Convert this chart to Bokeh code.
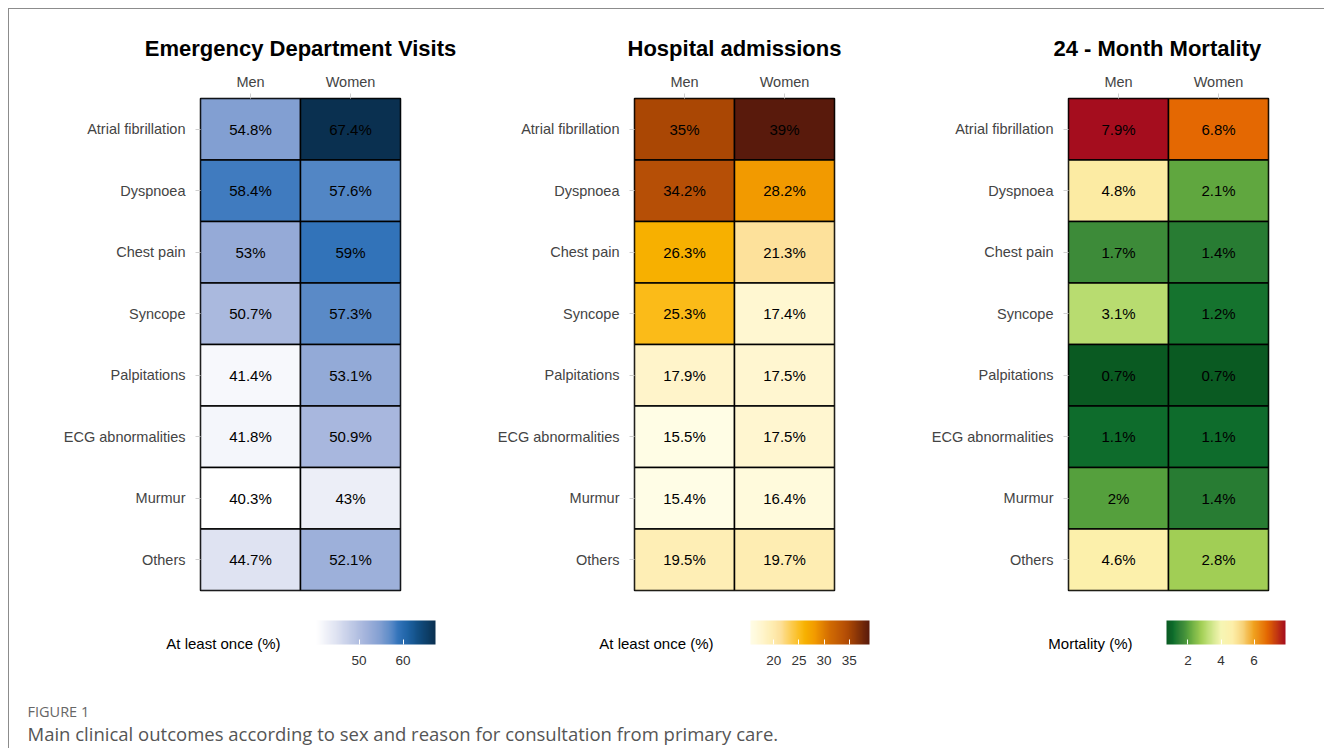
import numpy as np
from bokeh.plotting import figure
from bokeh.models import (ColumnDataSource, LinearColorMapper, ColorBar, FixedTicker,
                          Label, FactorRange, Range1d)
from bokeh.layouts import row, column
from bokeh.core.properties import value
from bokeh.embed import file_html
from bokeh.resources import INLINE

# ---------------- data ----------------
categories = ["Atrial fibrillation", "Dyspnoea", "Chest pain", "Syncope",
              "Palpitations", "ECG abnormalities", "Murmur", "Others"]
sexes = ["Men", "Women"]

ed_men = [54.8, 58.4, 53, 50.7, 41.4, 41.8, 40.3, 44.7]
ed_women = [67.4, 57.6, 59, 57.3, 53.1, 50.9, 43, 52.1]

ha_men = [35, 34.2, 26.3, 25.3, 17.9, 15.5, 15.4, 19.5]
ha_women = [39, 28.2, 21.3, 17.4, 17.5, 17.5, 16.4, 19.7]

mort_men = [7.9, 4.8, 1.7, 3.1, 0.7, 1.1, 2, 4.6]
mort_women = [6.8, 2.1, 1.4, 1.2, 0.7, 1.1, 1.4, 2.8]

titles = ["Emergency Department Visits", "Hospital admissions", "24 - Month Mortality"]
legend_titles = ["At least once (%)", "At least once (%)", "Mortality (%)"]
ed_ticks = [50, 60]
ha_ticks = [20, 25, 30, 35]
mort_ticks = [2, 4, 6]

# colour anchors (value, colour)
blue_anchors = [(40.3, "#ffffff"), (44.7, "#dfe3f2"), (50.8, "#a9b8de"), (53, "#94aad7"),
                (54.8, "#829fd2"), (57.4, "#5889c7"), (58.4, "#3f7bbf"), (59, "#3273b9"),
                (61, "#1f64a6"), (64, "#104a7c"), (67.4, "#0a3050")]
orange_anchors = [(15.4, "#fffde6"), (17.5, "#fff6cf"), (19.6, "#feedb3"), (21.3, "#fde19c"),
                  (23, "#fcd060"), (25.3, "#fbbb18"), (26.3, "#f7b000"), (28.2, "#f29a00"),
                  (31, "#d36d02"), (34.2, "#b64f06"), (35, "#aa4704"), (39, "#591a0c")]
mort_anchors = [(0.7, "#0a5a22"), (1.1, "#0e6c2c"), (1.2, "#17752f"), (1.4, "#2a7d34"),
                (1.7, "#3e8c39"), (2, "#55a03d"), (2.1, "#62a83f"), (2.8, "#a2cf55"),
                (3.1, "#b8dc70"), (4, "#f6f6b4"), (4.7, "#fdefaa"), (5.3, "#f8d47c"),
                (6, "#f0a11e"), (6.8, "#e46802"), (7.9, "#a50d1e")]

FONT = "Liberation Sans"


def make_palette(anchors, n=256):
    vals = np.array([a[0] for a in anchors], dtype=float)
    cols = np.array([[int(c[1][i:i + 2], 16) for i in (1, 3, 5)] for c in anchors], dtype=float)
    xs = np.linspace(vals[0], vals[-1], n)
    out = []
    for x in xs:
        r = np.interp(x, vals, cols[:, 0])
        g = np.interp(x, vals, cols[:, 1])
        b = np.interp(x, vals, cols[:, 2])
        out.append("#%02x%02x%02x" % (int(round(r)), int(round(g)), int(round(b))))
    return out, vals[0], vals[-1]


def make_panel(title, men, women, mapper, width, left, title_align, title_off):
    xs, ys, vs, labels = [], [], [], []
    for i, c in enumerate(categories):
        for s, arr in zip(sexes, (men, women)):
            xs.append(s)
            ys.append(c)
            vs.append(arr[i])
            labels.append(f"{arr[i]:g}%")
    src = ColumnDataSource(dict(x=xs, y=ys, v=vs, lab=labels))

    p = figure(x_range=FactorRange(*sexes, range_padding=0),
               y_range=FactorRange(*reversed(categories), range_padding=0),
               frame_width=200, frame_height=492, width=width, height=591,
               min_border_left=left, min_border_right=width - left - 200,
               min_border_top=89, min_border_bottom=10,
               x_axis_location="above", toolbar_location=None,
               output_backend="svg", tools="")
    p.rect(x="x", y="y", width=1, height=1, source=src,
           fill_color={"field": "v", "transform": mapper},
           line_color="black", line_width=1.5)
    p.text(x="x", y="y", text="lab", source=src, text_align="center",
           text_baseline="middle", text_font=value(FONT),
           text_font_size="15px", text_color="black")
    p.grid.visible = False
    p.outline_line_color = "black"
    p.outline_line_width = 1.5
    for ax in (p.xaxis[0], p.yaxis[0]):
        ax.axis_line_color = None
        ax.major_tick_line_color = "#d0d0d0"
        ax.major_tick_out = 5
        ax.major_tick_in = 0
        ax.major_label_text_font = FONT
        ax.major_label_text_font_size = "14.5px"
        ax.major_label_text_color = "#444444"
    p.xaxis.major_label_standoff = 4
    p.yaxis.major_label_standoff = 10
    p.background_fill_color = "white"
    p.border_fill_color = "white"

    p.title.text = title
    p.title.align = title_align
    p.title.offset = title_off
    p.title.text_font = FONT
    p.title.text_font_style = "bold"
    p.title.text_font_size = "22px"
    p.title.text_color = "black"
    p.title.standoff = 19
    return p


mappers = []
for anchors in (blue_anchors, orange_anchors, mort_anchors):
    pal, lo, hi = make_palette(anchors)
    mappers.append(LinearColorMapper(palette=pal, low=lo, high=hi))

p1 = make_panel(titles[0], ed_men, ed_women, mappers[0], 461, 191, "center", 0)
p2 = make_panel(titles[1], ha_men, ha_women, mappers[1], 430, 164, "center", 0)
p3 = make_panel(titles[2], mort_men, mort_women, mappers[2], 424, 168, "left", -15)

# bottom strip: colour bars, legend titles and caption
bot = figure(width=1315, height=148, x_range=Range1d(0, 1), y_range=Range1d(0, 1),
             toolbar_location=None, output_backend="svg", tools="",
             x_axis_location=None, y_axis_location=None, min_border=0)
bot.grid.visible = False
bot.outline_line_color = None

cb_x = [307, 741, 1157]
lt_x = [271, 704, 1123]
for mapper, ticks, bx, lx, lt in zip(mappers, (ed_ticks, ha_ticks, mort_ticks), cb_x, lt_x, legend_titles):
    cb = ColorBar(color_mapper=mapper, orientation="horizontal", width=119, height=24,
                  location=(bx, 81), padding=0, ticker=FixedTicker(ticks=ticks),
                  major_tick_line_color="white", major_tick_in=5, major_tick_out=0,
                  minor_tick_line_color=None, bar_line_color=None,
                  major_label_text_font=FONT, major_label_text_font_size="13.5px",
                  major_label_text_color="#333333", label_standoff=11,
                  background_fill_alpha=0)
    bot.add_layout(cb, "center")
    bot.add_layout(Label(x=lx, y=105, x_units="screen", y_units="screen",
                         text=lt, text_align="right", text_baseline="middle",
                         text_font=FONT, text_font_size="15px", text_color="black"))

bot.add_layout(Label(x=18, y=37, x_units="screen", y_units="screen", text="FIGURE 1",
                     text_font="Open Sans", text_font_size="14.5px", text_color="#666666",
                     text_baseline="middle"))
bot.add_layout(Label(x=18, y=15, x_units="screen", y_units="screen",
                     text="Main clinical outcomes according to sex and reason for consultation from primary care.",
                     text_font="Open Sans", text_font_size="18.5px", text_color="#555555",
                     text_baseline="middle"))

layout = column(row(p1, p2, p3), bot, margin=(8, 0, 0, 8),
                styles={"border-top": "1px solid #8c8c8c", "border-left": "1px solid #8c8c8c"})

open("out.html", "w").write(file_html(layout, INLINE))
